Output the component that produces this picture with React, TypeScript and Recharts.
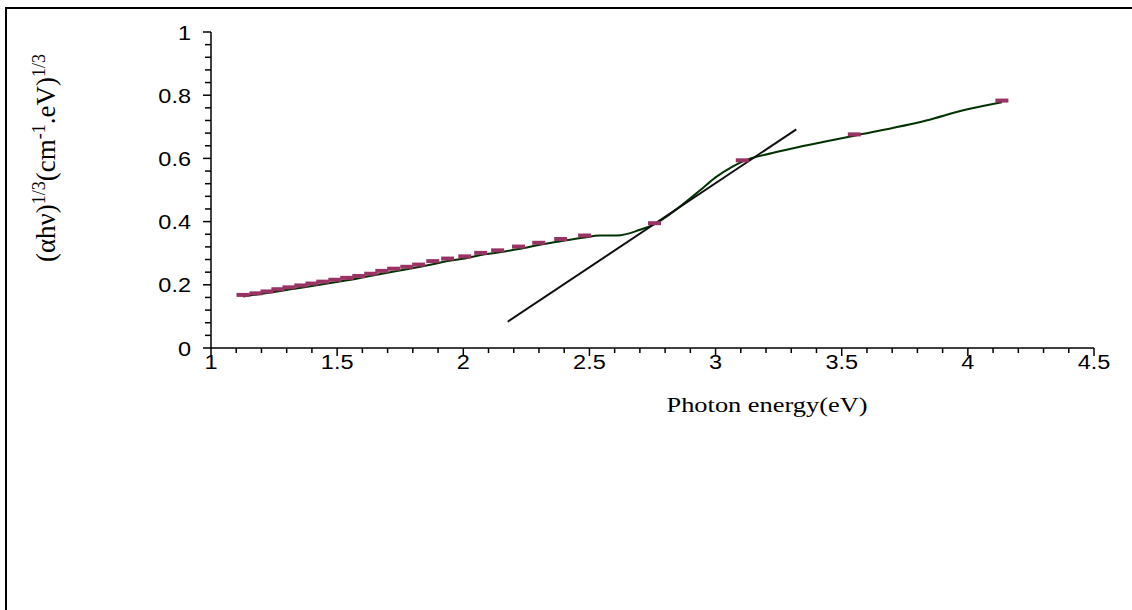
import React from 'react';
import { ComposedChart, Line, Scatter, XAxis, YAxis } from 'recharts';

// measured points (dash markers)
const markerEnergy = [
  1.127, 1.178, 1.222, 1.265, 1.309, 1.356, 1.4, 1.443, 1.491, 1.538, 1.586, 1.633, 1.677, 1.724, 1.776,
  1.823, 1.879, 1.938, 2.006, 2.069, 2.136, 2.219, 2.299, 2.386, 2.481, 2.758, 3.106, 3.55, 4.135,
];
const markerValue = [
  0.168, 0.173, 0.179, 0.186, 0.192, 0.198, 0.204, 0.21, 0.216, 0.222, 0.228, 0.235, 0.244, 0.251, 0.257,
  0.264, 0.275, 0.283, 0.29, 0.301, 0.309, 0.321, 0.333, 0.345, 0.356, 0.395, 0.594, 0.676, 0.783,
];

// smoothed green curve
const curveEnergy = [
  1.127, 1.222, 1.309, 1.4, 1.491, 1.586, 1.677, 1.776, 1.879, 1.938, 2.006, 2.069, 2.136, 2.219, 2.299,
  2.386, 2.481, 2.54, 2.61, 2.7, 2.758, 2.83, 2.94, 3.0, 3.067, 3.106, 3.225, 3.45, 3.55, 3.835, 3.99, 4.135,
];
const curveValue = [
  0.163, 0.174, 0.185, 0.196, 0.208, 0.221, 0.235, 0.249, 0.265, 0.275, 0.283, 0.294, 0.302, 0.313, 0.326,
  0.338, 0.35, 0.356, 0.356, 0.374, 0.392, 0.43, 0.5, 0.54, 0.574, 0.59, 0.617, 0.656, 0.672, 0.72, 0.754, 0.778,
];

// straight tangent line
const tangentEnergy = [2.176, 3.32];
const tangentValue = [0.083, 0.692];

const xMajorTicks = [1, 1.5, 2, 2.5, 3, 3.5, 4, 4.5];
const xAllTicks = [
  1, 1.1, 1.2, 1.3, 1.4, 1.5, 1.6, 1.7, 1.8, 1.9, 2, 2.1, 2.2, 2.3, 2.4, 2.5, 2.6, 2.7, 2.8, 2.9, 3, 3.1, 3.2,
  3.3, 3.4, 3.5, 3.6, 3.7, 3.8, 3.9, 4, 4.1, 4.2, 4.3, 4.4, 4.5,
];
const yMajorTicks = [0, 0.2, 0.4, 0.6, 0.8, 1];
const yAllTicks = [
  0, 0.04, 0.08, 0.12, 0.16, 0.2, 0.24, 0.28, 0.32, 0.36, 0.4, 0.44, 0.48, 0.52, 0.56, 0.6, 0.64, 0.68, 0.72,
  0.76, 0.8, 0.84, 0.88, 0.92, 0.96, 1,
];

const markers = markerEnergy.map((x, i) => ({ x, y: markerValue[i] }));
const curve = curveEnergy.map((x, i) => ({ x, y: curveValue[i] }));
const tangent = tangentEnergy.map((x, i) => ({ x, y: tangentValue[i] }));

const sans = '"Liberation Sans", Arial, sans-serif';
const serif = '"Liberation Serif", "Times New Roman", serif';

const isMajor = (list: number[], v: number) => list.some((m) => Math.abs(m - v) < 1e-6);

const XTick = ({ x, y, payload }: any) => {
  const major = isMajor(xMajorTicks, payload.value);
  return (
    <g>
      <line x1={x} x2={x} y1={y} y2={y + (major ? 8 : 5)} stroke="#000" strokeWidth={1.5} />
      {major && (
        <text
          transform={`translate(${x},${y + 21}) scale(1.12,1)`}
          textAnchor="middle"
          fontSize={21}
          fontFamily={sans}
          fill="#000"
        >
          {payload.value}
        </text>
      )}
    </g>
  );
};

const YTick = ({ x, y, payload }: any) => {
  const major = isMajor(yMajorTicks, payload.value);
  return (
    <g>
      <line x1={x - (major ? 8 : 6)} x2={x} y1={y} y2={y} stroke="#000" strokeWidth={1.5} />
      {major && (
        <text
          transform={`translate(${x - 20},${y}) scale(1.12,1)`}
          dy="0.36em"
          textAnchor="end"
          fontSize={21}
          fontFamily={sans}
          fill="#000"
        >
          {payload.value}
        </text>
      )}
    </g>
  );
};

const DashMarker = ({ cx, cy }: any) => (
  <rect x={cx - 6.5} y={cy - 2} width={13} height={4} fill="#993366" />
);

const YLabel = () => (
  <text
    x={46}
    y={158}
    transform="rotate(-90, 46, 158)"
    textAnchor="middle"
    dy="0.35em"
    fontSize={27}
    fontFamily={serif}
    fill="#000"
  >
    (αhν)
    <tspan dy={-10} fontSize={18}>1/3</tspan>
    <tspan dy={10}>(cm</tspan>
    <tspan dy={-10} fontSize={18}>-1</tspan>
    <tspan dy={10}>.eV)</tspan>
    <tspan dy={-10} fontSize={18}>1/3</tspan>
  </text>
);

const XLabel = () => (
  <text
    transform="translate(767,412) scale(1.2,1)"
    textAnchor="middle"
    fontSize={22}
    fontFamily={serif}
    fill="#000"
  >
    Photon energy(eV)
  </text>
);

export default function App() {
  return (
    <div style={{ position: 'absolute', left: 0, top: 0, width: 1132, height: 610, background: '#fff' }}>
      <div
        style={{
          position: 'absolute',
          left: 5,
          top: 7,
          width: 1125,
          height: 601,
          borderLeft: '2px solid #000',
          borderTop: '2px solid #000',
        }}
      />
      <div style={{ position: 'absolute', left: 0, top: 0 }}>
        <ComposedChart
          width={1132}
          height={610}
          margin={{ top: 32, right: 38, bottom: 202, left: 131 }}
        >
          <XAxis
            type="number"
            dataKey="x"
            domain={[1, 4.5]}
            ticks={xAllTicks}
            interval={0}
            tick={<XTick />}
            tickLine={false}
            tickSize={0}
            tickMargin={0}
            height={60}
            axisLine={{ stroke: '#000', strokeWidth: 1.5 }}
            allowDataOverflow
            label={{ content: () => <XLabel /> }}
          />
          <YAxis
            type="number"
            dataKey="y"
            domain={[0, 1]}
            ticks={yAllTicks}
            interval={0}
            tick={<YTick />}
            tickLine={false}
            tickSize={0}
            tickMargin={0}
            width={80}
            axisLine={{ stroke: '#000', strokeWidth: 1.5 }}
            allowDataOverflow
            label={{ content: () => <YLabel /> }}
          />
          <Line
            data={curve}
            dataKey="y"
            type="monotone"
            stroke="#003300"
            strokeWidth={2}
            dot={false}
            activeDot={false}
            isAnimationActive={false}
          />
          <Scatter data={markers} dataKey="y" shape={<DashMarker />} isAnimationActive={false} />
          <Line
            data={tangent}
            dataKey="y"
            type="linear"
            stroke="#111"
            strokeWidth={2}
            dot={false}
            activeDot={false}
            isAnimationActive={false}
          />
        </ComposedChart>
      </div>
    </div>
  );
}
